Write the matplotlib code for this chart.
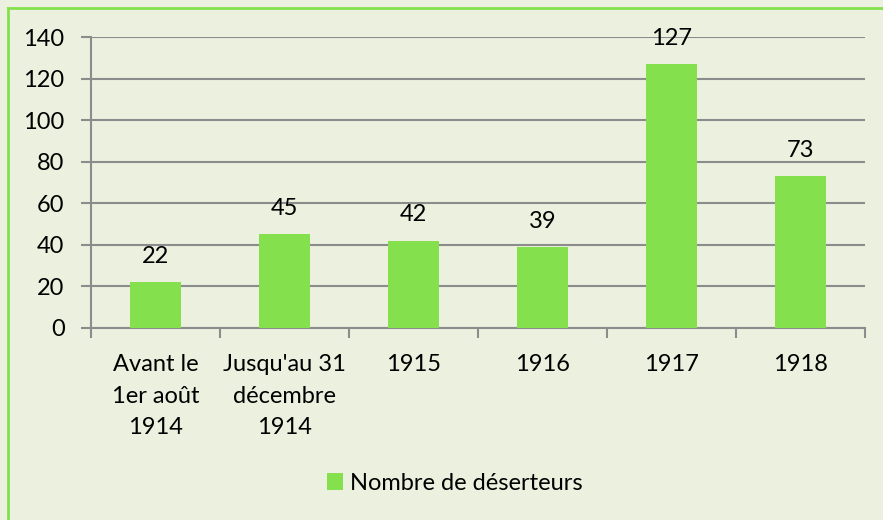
import matplotlib
matplotlib.use("Agg")
import matplotlib.pyplot as plt
from matplotlib.lines import Line2D
from matplotlib.patches import Patch

categories = ["Avant le\n1er août\n1914", "Jusqu'au 31\ndécembre\n1914", "1915", "1916", "1917", "1918"]
values = [22, 45, 42, 39, 127, 73]
series_name = "Nombre de déserteurs"
yticks = [0, 20, 40, 60, 80, 100, 120, 140]

BG = "#EBF1DE"
BAR = "#84E14D"
GRID = "#8C8C8C"
FS = 17

plt.rcParams['font.family'] = ['Lato', 'DejaVu Sans']
W, H = 883, 520
fig = plt.figure(figsize=(W / 100, H / 100), dpi=100, facecolor=BG)
ax = fig.add_axes([91 / W, (H - 328) / H, (865 - 91) / W, (328 - 37) / H])
ax.set_facecolor(BG)

x = list(range(len(categories)))
bars = ax.bar(x, values, width=0.39, color=BAR, zorder=3, label=series_name)
ax.set_xlim(-0.5, len(categories) - 0.5)
ax.set_ylim(0, 140)
ax.set_yticks(yticks)
ax.set_yticklabels([str(t) for t in yticks], fontsize=FS)
ax.yaxis.grid(True, color=GRID, linewidth=1.5, zorder=0)
ax.set_axisbelow(True)

ax.set_xticks([i - 0.5 for i in range(len(categories) + 1)], minor=False)
ax.set_xticklabels([])
ax.set_xticks(x, minor=True)
ax.set_xticklabels(categories, minor=True, fontsize=FS, linespacing=1.62)
ax.tick_params(axis='x', which='minor', length=0, pad=19)
ax.tick_params(axis='x', which='major', length=7, width=1.5, color=GRID, direction='out')
ax.tick_params(axis='y', length=7, width=1.5, color=GRID, pad=12)

for s in ['top', 'right']:
    ax.spines[s].set_visible(False)
for s in ['left', 'bottom']:
    ax.spines[s].set_color(GRID)
    ax.spines[s].set_linewidth(1.5)

for xi, v in zip(x, values):
    ax.annotate(str(v), (xi, v), xytext=(0, 11), textcoords='offset points',
                ha='center', va='bottom', fontsize=FS, zorder=4)

handle = Patch(facecolor=BAR, edgecolor='none')
fig.legend([handle], [series_name], loc='center', bbox_to_anchor=(455 / W, (H - 483) / H),
           frameon=False, fontsize=FS, handlelength=0.7, handleheight=0.7, handletextpad=0.3)

# outer border (left and top visible)
fig.add_artist(Line2D([8 / W, 8 / W], [0, 1 - 8 / H], transform=fig.transFigure, color=BAR, linewidth=2.0))
fig.add_artist(Line2D([8 / W, 1], [1 - 8 / H, 1 - 8 / H], transform=fig.transFigure, color=BAR, linewidth=2.0))

fig.savefig("out.png", dpi=100, facecolor=BG)
